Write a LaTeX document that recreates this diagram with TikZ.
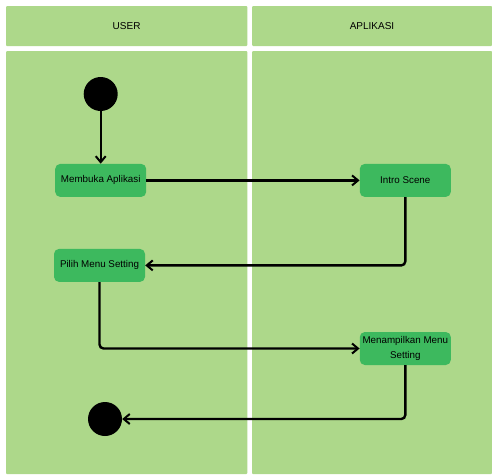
\documentclass[tikz,border=0pt]{standalone}
\usepackage{fontspec}
\setmainfont{Liberation Sans}
\usetikzlibrary{arrows.meta}
\definecolor{lanegreen}{RGB}{173,216,138}
\definecolor{boxgreen}{RGB}{61,185,94}
\tikzset{
  lane/.style={fill=lanegreen, draw=none, rounded corners=1pt},
  action/.style={rectangle, rounded corners=5pt, fill=boxgreen, draw=none,
    minimum width=91pt, minimum height=33pt, inner sep=1pt,
    font=\fontsize{9.8}{14.3}\selectfont, align=center, text=black},
  dot/.style={circle, fill=black, draw=none, minimum size=34pt, inner sep=0pt},
  flow/.style={draw=black, line width=2.4pt, rounded corners=4pt,
    -{Straight Barb[length=6pt,width=10pt,line width=2pt]}},
  headlabel/.style={font=\fontsize{10}{12}\selectfont, text=black}
}
\begin{document}
\begin{tikzpicture}[x=1pt,y=-1pt]
  \useasboundingbox (0,0) rectangle (492,474);
  \fill[white] (0,0) rectangle (492,474);

  % swimlane headers and bodies
  \fill[lane] (6,6) rectangle (247.3,46);
  \fill[lane] (252,6) rectangle (492,46);
  \fill[lane] (6,51) rectangle (247.3,474);
  \fill[lane] (252,51) rectangle (492,474);
  \node[headlabel] (huser) at (126.6,26) {USER};
  \node[headlabel] (happ) at (372,26) {APLIKASI};

  % activity nodes
  \node[dot] (start) at (100.7,94) {};
  \node[action] (membuka) at (100.7,180.4) {Membuka Aplikasi};
  \node[action] (intro) at (405.3,180.4) {Intro Scene};
  \node[action] (pilih) at (99.5,265.4) {Pilih Menu Setting};
  \node[action] (tampil) at (405.3,348.5) {Menampilkan Menu\\Setting};
  \node[dot] (stop) at (105,419) {};

  % control flow
  \draw[flow] (start) -- (membuka);
  \draw[flow] (membuka) -- (intro);
  \draw[flow] (intro.south) |- (pilih.east);
  \draw[flow] (pilih.south) |- (tampil.west);
  \draw[flow] (tampil.south) |- (stop.east);
\end{tikzpicture}
\end{document}
